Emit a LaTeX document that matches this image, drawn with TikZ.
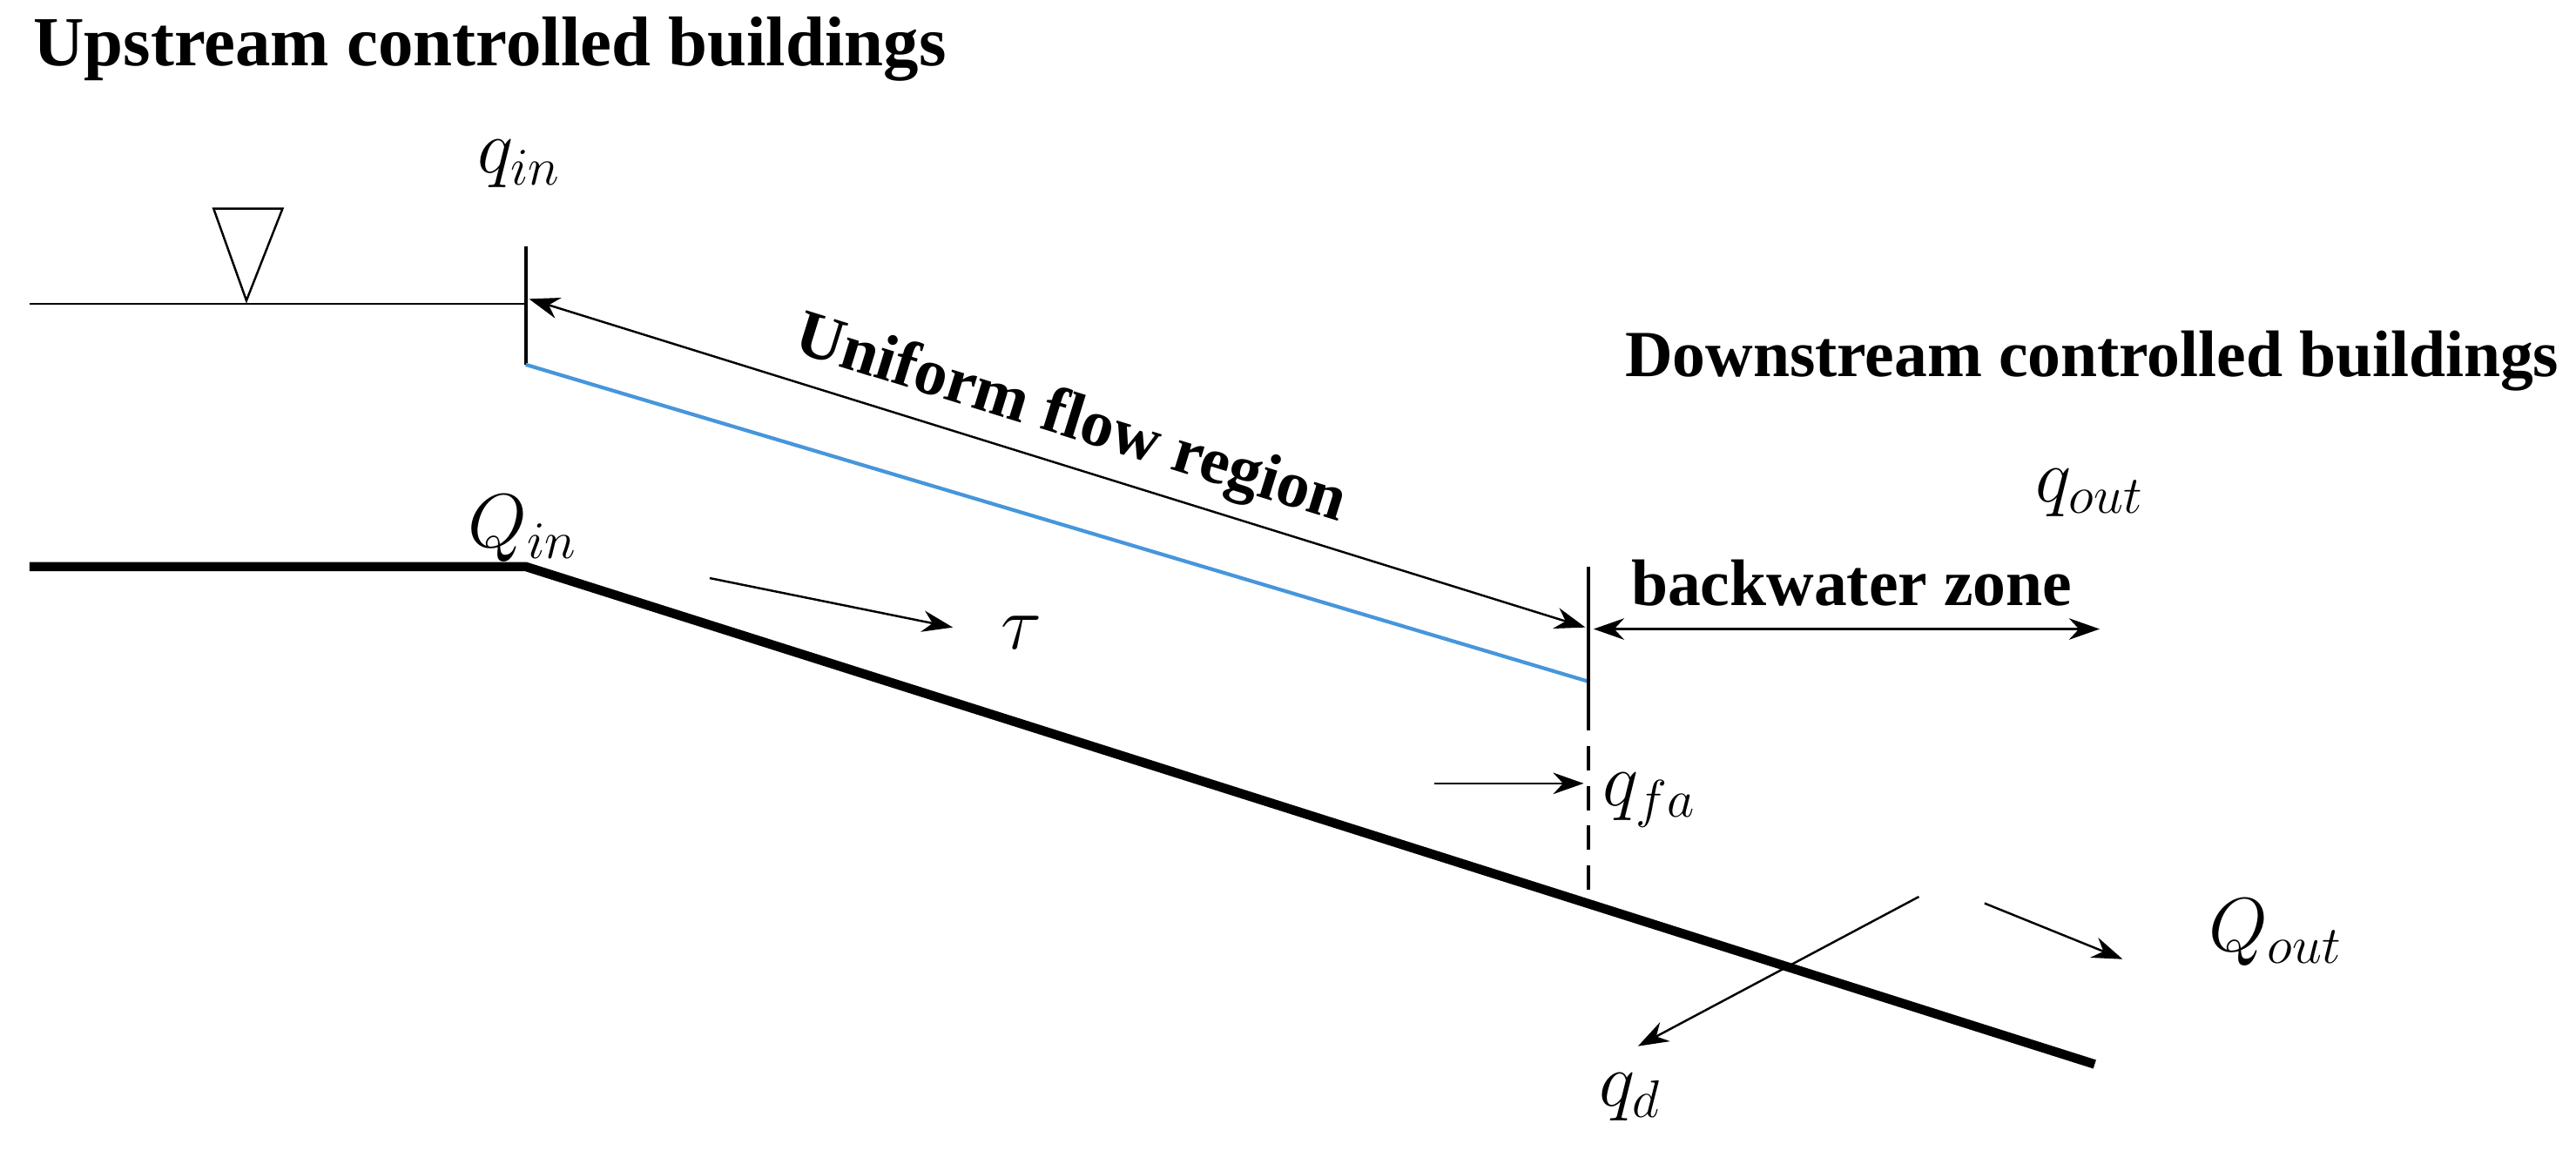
\documentclass[tikz,border=0pt]{standalone}
\usepackage{fontspec}
\setmainfont{Liberation Serif}
\usetikzlibrary{arrows.meta,positioning}
\begin{document}
\begin{tikzpicture}[x=0.01886cm, y=-0.01886cm,
			title/.style={font=\fontsize{21.5}{25}\selectfont\bfseries, inner sep=0},
			sym/.style={font=\fontsize{27}{32}\selectfont, inner sep=0},
			line/.style={draw, -{Stealth[length=10pt,width=7pt]}, line width=0.7pt},
			both/.style={draw, {Stealth[length=10pt,width=7pt]}-{Stealth[length=10pt,width=7pt]}, line width=0.7pt}
		]
		\useasboundingbox (0,0) rectangle (1568,704);
		% Coordinates
		\coordinate (wl) at (18,185);
		\coordinate (gtop) at (320,150);
		\coordinate (gwl) at (320,185);
		\coordinate (gbot) at (320,222);
		\coordinate (bed0) at (18,345);
		\coordinate (bed1) at (320,345);
		\coordinate (bed2) at (1275,648);
		\coordinate (dtop) at (967,345);
		\coordinate (dmid) at (967,415);
		\coordinate (dbot) at (967,550);
		% Water surface and symbol
		\draw[line width=0.7pt] (wl) -- (gwl);
		\draw[line width=0.7pt] (130,127) -- (172,127) -- (150,183) -- cycle;
		\draw[line width=1.2pt] (gtop) -- (gbot);
		\draw[color={rgb,255:red,70;green,150;blue,220}, line width=1.2pt] (gbot) -- (dmid);
		% Channel bed
		\draw[line width=3pt] (bed0) -- (bed1) -- (bed2);
		% Gauge downstream
		\draw[line width=1.2pt] (dtop) -- (967,430);
		\draw[line width=1.2pt, dash pattern=on 8pt off 5pt] (967,430) -- (dbot);
		% Labels
		\node[title, anchor=west, font=\fontsize{23}{27}\selectfont\bfseries] (up) at (20,30) {Upstream controlled buildings};
		\node[title, anchor=east] (down) at (1558,220) {Downstream controlled buildings};
		\node[sym] (qin) at (316,100) {$q_{in}$};
		\node[sym] (Qin) at (318,322) {$Q_{in}$};
		\node[sym] (tau) at (622,385) {$\tau$};
		\node[sym] (qout) at (1272,300) {$q_{out}$};
		\node[sym] (qfa) at (1004,487) {$q_{fa}$};
		\node[sym] (qd) at (992,668) {$q_{d}$};
		\node[sym] (Qout) at (1385,568) {$Q_{out}$};
		\node[title] (bw) at (1127,355) {backwater zone};
		% Arrows
		\coordinate (ua) at (322,182);
		\coordinate (ub) at (965,382);
		\path[both] (ua) -- node[title, sloped, above=4pt] {Uniform flow region} (ub);
		\coordinate (ba) at (970,383);
		\coordinate (bb) at (1278,383);
		\path[both] (ba) -- (bb);
		\coordinate (f0) at (432,352);
		\coordinate (f1) at (580,382);
		\path[line] (f0) -- (f1);
		\coordinate (a0) at (873,477);
		\coordinate (a1) at (964,477);
		\path[line] (a0) -- (a1);
		\coordinate (d0) at (1168,546);
		\coordinate (d1) at (997,637);
		\path[line] (d0) -- (d1);
		\coordinate (o0) at (1208,550);
		\coordinate (o1) at (1292,584);
		\path[line] (o0) -- (o1);
	\end{tikzpicture}
\end{document}
